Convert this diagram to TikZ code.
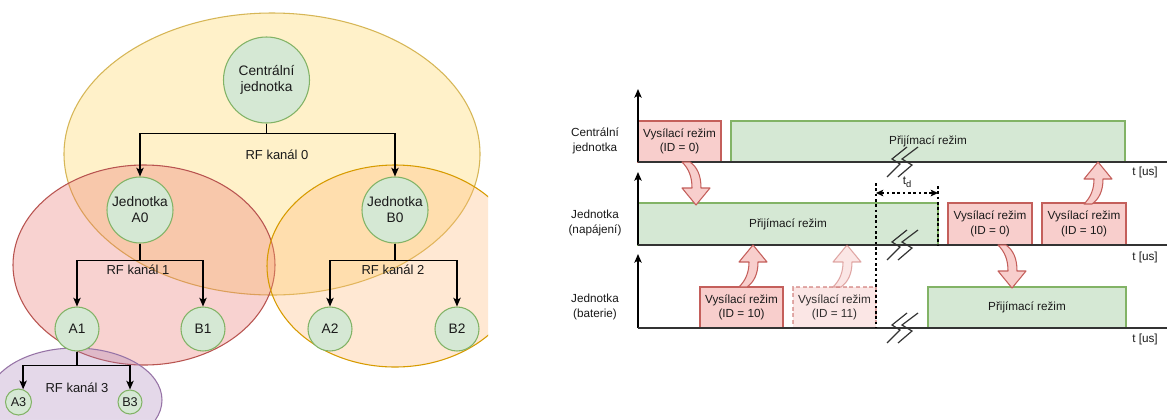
\documentclass[tikz,border=0pt]{standalone}
\usepackage{fontspec}
\setmainfont{Liberation Sans}
\usetikzlibrary{arrows.meta,calc}
\definecolor{gfill}{HTML}{D5E8D4}
\definecolor{gstroke}{HTML}{82B366}
\definecolor{rfill}{HTML}{F8CECC}
\definecolor{rstroke}{HTML}{C45F5B}
\definecolor{yfill}{HTML}{FFD966}
\definecolor{ystroke}{HTML}{D6B656}
\definecolor{redfill}{HTML}{EA6B66}
\definecolor{redstroke}{HTML}{B85450}
\definecolor{ofill}{HTML}{FFB570}
\definecolor{ostroke}{HTML}{D79B00}
\definecolor{pfill}{HTML}{A680B8}
\definecolor{pstroke}{HTML}{9673A6}
\definecolor{txt}{HTML}{1A1A1A}
\definecolor{lin}{HTML}{333333}
\tikzset{
  bubble/.style={circle, draw=gstroke, fill=gfill, line width=0.8pt, inner sep=0pt, align=center, text=txt, font=\fontsize{10.3}{12}\selectfont},
  tree/.style={line width=1pt, draw=black, -{Stealth[length=6.5pt,width=5.5pt,inset=1.5pt]}},
  lbl/.style={text=txt, font=\fontsize{9.75}{11.5}\selectfont},
  rlbl/.style={text=txt, align=center, font=\fontsize{8.8}{10.8}\selectfont},
  redbox/.style={draw=rstroke, fill=rfill, line width=0.8pt, inner sep=0pt, align=center, text=txt, font=\fontsize{8.8}{10.8}\selectfont, minimum height=30.75pt},
  greenbox/.style={draw=gstroke, fill=gfill, line width=0.8pt, inner sep=0pt, align=center, text=txt, font=\fontsize{8.8}{10.8}\selectfont, minimum height=30.75pt},
  axisline/.style={line width=0.9pt, draw=black, -{Stealth[length=6.5pt,width=5.5pt,inset=1.5pt]}},
  baseline/.style={line width=1pt, draw=lin},
  brkline/.style={line width=0.9pt, draw=lin},
  blockarrow/.style={fill=rfill, draw=rstroke, line width=0.8pt, line join=round},
  dimline/.style={line width=0.8pt, draw=black, dash pattern=on 2pt off 2pt}
}
\newcommand\downblk[3]{%
  \begin{scope}[shift={(#1,#2)}]
  \path[blockarrow,#3] (-14,-43) .. controls (-7,-36) and (-4,-28) .. (-4,-17) -- (-14,-17) -- (0,0) -- (14,-17) -- (5,-17) .. controls (5,-30) and (1,-38) .. (-6,-43) -- cycle;
  \end{scope}}
\newcommand\upblk[3]{%
  \begin{scope}[shift={(#1,#2)}]
  \path[blockarrow,#3] (-14,42) .. controls (-7,35) and (-4,27) .. (-4,17) -- (-14,17) -- (0,0) -- (14,17) -- (5,17) .. controls (5,29) and (1,37) .. (-6,42) -- cycle;
  \end{scope}}
\newcommand\brksym[2]{%
  \begin{scope}[shift={(#1,#2)}]
  \draw[brkline] (5,-15) -- (-10,-3) -- (-2,2) -- (-15,15);
  \draw[brkline] (16,-15) -- (0,-3) -- (10,3) -- (-4,15);
  \end{scope}}
\begin{document}
\begin{tikzpicture}[x=0.75pt,y=-0.75pt]
\useasboundingbox (0,0) rectangle (1167,419);
\fill[white] (0,0) rectangle (1167,419);

% ---------- left: ellipses ----------
\begin{scope}
\clip (0,0) rectangle (488,419);
\draw[draw=ystroke, fill=yfill, fill opacity=0.35, line width=0.8pt] (272,154) ellipse [x radius=156pt, y radius=105.75pt];
\draw[draw=redstroke, fill=redfill, fill opacity=0.3, line width=0.8pt] (144,265) ellipse [x radius=98.25pt, y radius=75pt];
\draw[draw=ostroke, fill=ofill, fill opacity=0.3, line width=0.8pt] (395,266) ellipse [x radius=96pt, y radius=75.75pt];
\draw[draw=pstroke, fill=pfill, fill opacity=0.3, line width=0.8pt] (75,400) ellipse [x radius=65.25pt, y radius=39pt];
\end{scope}

% ---------- left: tree ----------
\node[bubble, minimum size=64.5pt] (C) at (266.5,80) {Centrální\\jednotka};
\node[bubble, minimum size=49.5pt] (A0) at (140,210) {Jednotka\\A0};
\node[bubble, minimum size=49.5pt] (B0) at (395,210) {Jednotka\\B0};
\node[bubble, minimum size=33pt] (A1) at (77,329) {A1};
\node[bubble, minimum size=33pt] (B1) at (203,329) {B1};
\node[bubble, minimum size=33pt] (A2) at (330,329) {A2};
\node[bubble, minimum size=33pt] (B2) at (457,329) {B2};
\node[bubble, minimum size=19.5pt, font=\fontsize{9.5}{11}\selectfont] (A3) at (18.5,402) {A3};
\node[bubble, minimum size=18pt, font=\fontsize{9.5}{11}\selectfont] (B3) at (130,402) {B3};

\draw[tree] (C.south) -- ++(0,10) -| (A0.north);
\draw[tree] (C.south) -- ++(0,10) -| (B0.north);
\draw[tree] (A0.south) -- ++(0,17) -| (A1.north);
\draw[tree] (A0.south) -- ++(0,17) -| (B1.north);
\draw[tree] (B0.south) -- ++(0,17) -| (A2.north);
\draw[tree] (B0.south) -- ++(0,17) -| (B2.north);
\draw[tree] (A1.south) -- ++(0,14) -| (A3.70);
\draw[tree] (A1.south) -- ++(0,14) -| (B3.north);

\node[lbl] (k0) at (277,155) {RF kanál 0};
\node[lbl] (k1) at (138,270) {RF kanál 1};
\node[lbl] (k2) at (393,270) {RF kanál 2};
\node[lbl] (k3) at (77,388) {RF kanál 3};

% ---------- right: timing ----------
\node[rlbl] (L1) at (595,141) {Centrální\\jednotka};
\node[rlbl] (L2) at (595,223) {Jednotka\\(napájení)};
\node[rlbl] (L3) at (595,307) {Jednotka\\(baterie)};

% boxes
\node[redbox, minimum width=62.25pt] (R1) at (679.5,141.5) {Vysílací režim\\(ID = 0)};
\node[greenbox, minimum width=295.5pt] (G1) at (928,141.5) {Přijímací režim};
\node[greenbox, minimum width=225pt, minimum height=31.5pt] (G2) at (788,224) {Přijímací režim};
\node[redbox, minimum width=63pt, minimum height=31.5pt] (R2a) at (990,224) {Vysílací režim\\(ID = 0)};
\node[redbox, minimum width=63pt, minimum height=31.5pt] (R2b) at (1084,224) {Vysílací režim\\(ID = 10)};
\node[redbox, minimum width=62.25pt] (R3a) at (741.5,307.5) {Vysílací režim\\(ID = 10)};
\node[redbox, minimum width=62.25pt, draw opacity=0.5, fill opacity=0.5, text opacity=0.9, dash pattern=on 3pt off 2pt] (R3b) at (834.5,307.5) {Vysílací režim\\(ID = 11)};
\node[greenbox, minimum width=148.5pt] (G3) at (1027,307.5) {Přijímací režim};

% axes
\coordinate (O1) at (638,162); \coordinate (T1) at (638,89); \coordinate (E1) at (1167,162);
\coordinate (O2) at (638,245); \coordinate (T2) at (638,172); \coordinate (E2) at (1167,245);
\coordinate (O3) at (638,328); \coordinate (T3) at (638,254); \coordinate (E3) at (1167,328);
\draw[axisline] (O1) -- (T1);
\draw[axisline] (O2) -- (T2);
\draw[axisline] (O3) -- (T3);
\draw[baseline] (O1) -- (E1);
\draw[baseline] (O2) -- (E2);
\draw[baseline] (O3) -- (E3);
\node[rlbl] (tu1) at (1145,172) {t [us]};
\node[rlbl] (tu2) at (1145,257) {t [us]};
\node[rlbl] (tu3) at (1145,339) {t [us]};

% breaks
\brksym{902}{162}
\brksym{902}{245}
\brksym{902}{328}

% t_d
\coordinate (dl1) at (876,183); \coordinate (dl2) at (876,328);
\coordinate (dr1) at (938,186); \coordinate (dr2) at (938,245);
\coordinate (da) at (876,193); \coordinate (db) at (938,193);
\draw[dimline] (dl1) -- (dl2);
\draw[dimline] (dr1) -- (dr2);
\draw[dimline, {Stealth[length=5.5pt,width=5pt,inset=1.2pt]}-{Stealth[length=5.5pt,width=5pt,inset=1.2pt]}] (da) -- (db);
\node[rlbl] (td) at (907,182) {t\raisebox{-2.2pt}{\fontsize{7}{8}\selectfont d}};

% block arrows
\downblk{696}{205}{}
\upblk{753}{245}{}
\upblk{847}{245}{fill opacity=0.5, draw opacity=0.5}
\downblk{1012}{288}{}
\upblk{1098}{162}{}
\end{tikzpicture}
\end{document}
